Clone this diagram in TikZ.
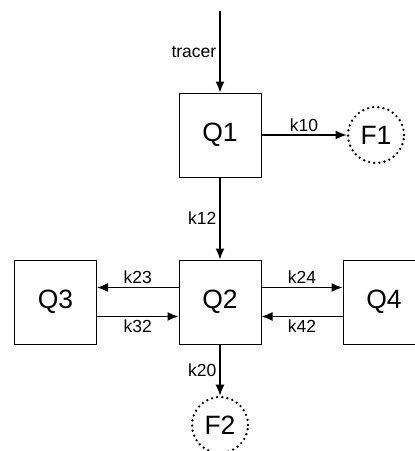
\documentclass[tikz,border=0pt]{standalone}
\usepackage{fontspec}
\setmainfont{Liberation Sans}
\usetikzlibrary{positioning,arrows.meta}

\begin{document}
\begin{tikzpicture}[x=1pt, y=-1pt, >={Latex[length=11pt,width=9pt]},
    font=\fontsize{17.5}{19}\selectfont,
    comp/.style={draw, line width=1pt, minimum width=82pt, minimum height=84pt, inner sep=0pt, font=\fontsize{26.5}{30}\selectfont},
    pool/.style={circle, draw, line width=2.6pt, line cap=round, dash pattern=on 0pt off 5.2pt, minimum size=56pt, inner sep=0pt, font=\fontsize{26.5}{30}\selectfont},
    flow/.style={->, line width=1.5pt},
    rate/.style={inner sep=3pt}]
    \clip (0,0) rectangle (415,451);
    % compartments
    \node[comp] (q1) at (220,135) {Q1};
    \node[comp] (q2) at (220,302) {Q2};
    \node[comp] (q3) at (55.5,302) {Q3};
    \node[comp] (q4) at (384,302) {Q4};
    % outflows
    \node[pool] (f1) at (376,135) {F1};
    \node[pool] (f2) at (220,425) {F2};
    \coordinate (in) at (220,11);

    \draw[flow] (in) -- (q1) node[midway, left, rate]{tracer};
    \draw[flow] (q1) -- (f1) node[midway, above, rate]{k10};
    \draw[flow] (q1) -- (q2) node[midway, left, rate]{k12};
    \draw[flow] (q2) -- (f2) node[midway, left, rate]{k20};
    \draw[flow] ([yshift=14.5pt]q2.west) -- ([yshift=14.5pt]q3.east) node[midway, above, rate]{k23};
    \draw[flow] ([yshift=-14.5pt]q3.east) -- ([yshift=-14.5pt]q2.west) node[midway, below, rate]{k32};
    \draw[flow] ([yshift=14.5pt]q2.east) -- ([yshift=14.5pt]q4.west) node[midway, above, rate]{k24};
    \draw[flow] ([yshift=-14.5pt]q4.west) -- ([yshift=-14.5pt]q2.east) node[midway, below, rate]{k42};
  \end{tikzpicture}
\end{document}
